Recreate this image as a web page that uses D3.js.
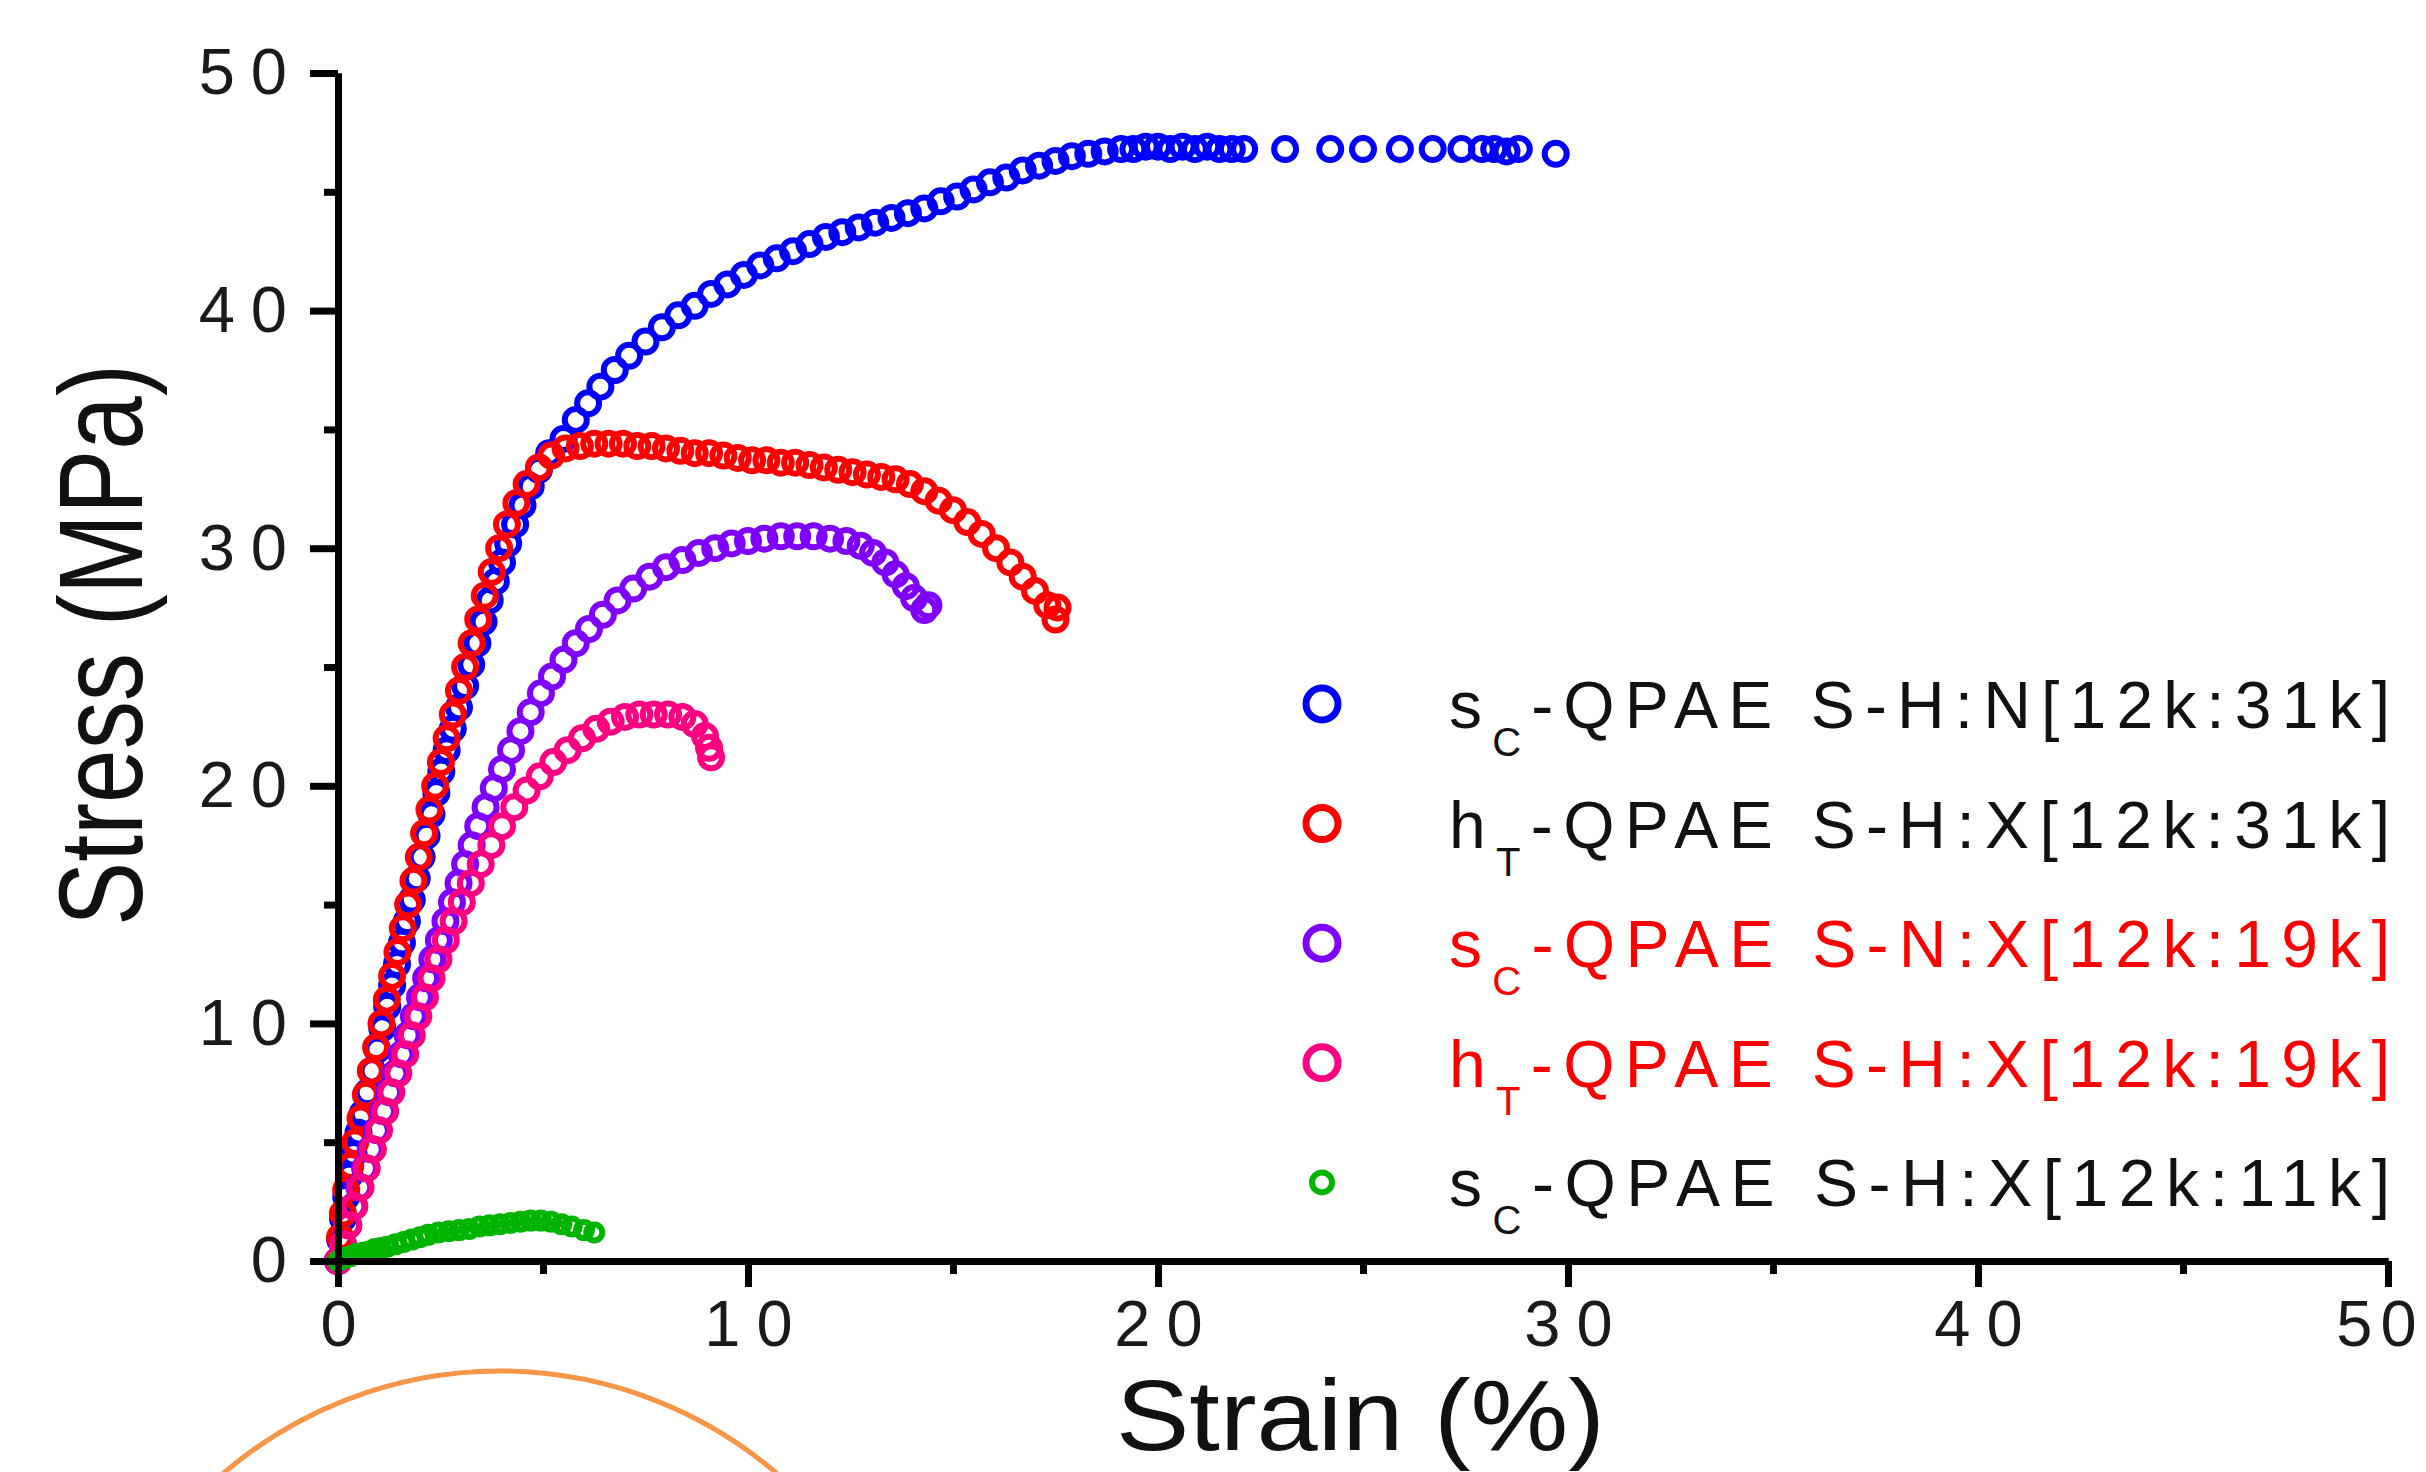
<!DOCTYPE html>
<html>
<head>
<meta charset="utf-8">
<script src="https://cdn.jsdelivr.net/npm/d3@7/dist/d3.min.js"></script>
<style>
	html, body { margin: 0; padding: 0; background: #fff; }
	svg { display: block; font-family: "Liberation Sans", Arial, sans-serif; }
</style>
</head>
<body>
<div id="chart"></div>
<script>
// axis ticks
var xTicks = [0, 10, 20, 30, 40, 50];
var xMinorTicks = [5, 15, 25, 35, 45];
var yTicks = [0, 10, 20, 30, 40, 50];
var yMinorTicks = [5, 15, 25, 35, 45];

// legend labels: [letter, subscript, rest]
var seriesLabels = [
	["s", "C", "-QPAE S-H:N[12k:31k]"],
	["h", "T", "-QPAE S-H:X[12k:31k]"],
	["s", "C", "-QPAE S-N:X[12k:19k]"],
	["h", "T", "-QPAE S-H:X[12k:19k]"],
	["s", "C", "-QPAE S-H:X[12k:11k]"]
];

// [strain %, stress MPa]
var blueData = [
	[0, 0], [0.05, 0.9], [0.12, 1.8], [0.2, 2.7], [0.28, 3.6], [0.38, 4.5], [0.5, 5.4], [0.6, 6.2],
	[0.72, 7.1], [0.84, 8.0], [0.96, 8.9], [1.08, 9.8], [1.2, 10.7], [1.32, 11.6], [1.44, 12.5],
	[1.56, 13.4], [1.68, 14.3], [1.8, 15.2], [1.92, 16.1], [2.04, 17.0], [2.16, 17.9], [2.28, 18.8],
	[2.4, 19.7], [2.52, 20.6], [2.65, 21.5], [2.8, 22.4], [2.95, 23.3], [3.1, 24.2], [3.25, 25.1],
	[3.4, 26.0], [3.55, 26.9], [3.7, 27.8], [3.85, 28.6], [4.0, 29.4], [4.15, 30.2], [4.32, 31.0],
	[4.5, 31.8], [4.7, 32.6], [4.9, 33.3], [5.15, 34.0], [5.5, 34.6], [5.8, 35.4], [6.1, 36.1],
	[6.4, 36.8], [6.75, 37.5], [7.1, 38.1], [7.5, 38.7], [7.9, 39.3], [8.3, 39.8], [8.7, 40.2],
	[9.1, 40.7], [9.5, 41.1], [9.9, 41.5], [10.3, 41.9], [10.7, 42.2], [11.1, 42.5], [11.5, 42.8],
	[11.9, 43.1], [12.3, 43.3], [12.7, 43.5], [13.1, 43.7], [13.5, 43.9], [13.9, 44.1], [14.3, 44.3],
	[14.7, 44.6], [15.1, 44.8], [15.5, 45.1], [15.9, 45.4], [16.3, 45.6], [16.7, 45.9], [17.1, 46.1],
	[17.5, 46.3], [17.9, 46.5], [18.3, 46.6], [18.7, 46.7], [19.1, 46.8], [19.4, 46.8], [19.7, 46.9],
	[20.0, 46.9], [20.3, 46.8], [20.6, 46.9], [20.9, 46.8], [21.2, 46.9], [21.5, 46.8], [21.8, 46.8],
	[22.1, 46.8], [23.1, 46.8], [24.2, 46.8], [25.0, 46.8], [25.9, 46.8], [26.7, 46.8], [27.4, 46.8],
	[27.9, 46.8], [28.2, 46.8], [28.5, 46.7], [28.8, 46.8], [29.7, 46.6]
];
var redData = [
	[0, 0], [0.05, 1.0], [0.12, 2.0], [0.2, 3.0], [0.3, 4.0], [0.42, 5.0], [0.55, 6.0], [0.68, 7.0],
	[0.8, 8.0], [0.93, 9.0], [1.06, 10.0], [1.19, 11.0], [1.32, 12.0], [1.45, 13.0], [1.58, 14.0],
	[1.71, 15.0], [1.84, 16.0], [1.97, 17.0], [2.1, 18.0], [2.23, 19.0], [2.37, 20.0], [2.51, 21.0],
	[2.65, 22.0], [2.8, 23.0], [2.95, 24.0], [3.1, 25.0], [3.26, 26.0], [3.42, 27.0], [3.58, 28.0],
	[3.75, 29.0], [3.93, 30.0], [4.12, 31.0], [4.35, 31.9], [4.6, 32.7], [4.9, 33.4], [5.2, 33.9],
	[5.55, 34.2], [5.9, 34.3], [6.25, 34.4], [6.6, 34.4], [6.95, 34.4], [7.3, 34.3], [7.65, 34.3],
	[8.0, 34.2], [8.35, 34.1], [8.7, 34.0], [9.05, 34.0], [9.4, 33.9], [9.75, 33.8], [10.1, 33.7],
	[10.45, 33.7], [10.8, 33.6], [11.15, 33.6], [11.5, 33.5], [11.85, 33.4], [12.2, 33.3],
	[12.55, 33.2], [12.9, 33.1], [13.25, 33.0], [13.6, 32.9], [13.95, 32.7], [14.3, 32.4],
	[14.65, 32.0], [15.0, 31.6], [15.35, 31.1], [15.7, 30.6], [16.05, 30.0], [16.4, 29.4],
	[16.7, 28.8], [17.0, 28.2], [17.3, 27.6], [17.5, 27.0], [17.55, 27.5]
];
var purpleData = [
	[0, 0], [0.12, 0.7], [0.25, 1.5], [0.38, 2.3], [0.52, 3.1], [0.66, 3.9], [0.8, 4.7], [0.95, 5.5],
	[1.1, 6.3], [1.25, 7.1], [1.4, 7.9], [1.55, 8.7], [1.7, 9.5], [1.85, 10.3], [2.0, 11.1],
	[2.15, 11.9], [2.3, 12.7], [2.46, 13.5], [2.62, 14.3], [2.78, 15.1], [2.94, 15.9], [3.1, 16.7],
	[3.26, 17.5], [3.42, 18.3], [3.6, 19.1], [3.8, 19.9], [4.0, 20.7], [4.22, 21.5], [4.45, 22.3],
	[4.7, 23.1], [4.95, 23.9], [5.22, 24.6], [5.5, 25.3], [5.8, 26.0], [6.12, 26.6], [6.46, 27.2],
	[6.82, 27.8], [7.2, 28.3], [7.6, 28.8], [8.0, 29.2], [8.4, 29.5], [8.8, 29.8], [9.2, 30.0],
	[9.6, 30.2], [10.0, 30.3], [10.4, 30.4], [10.8, 30.5], [11.2, 30.5], [11.6, 30.5], [12.0, 30.4],
	[12.4, 30.3], [12.75, 30.1], [13.05, 29.8], [13.35, 29.4], [13.6, 28.9], [13.85, 28.4],
	[14.05, 27.9], [14.3, 27.4], [14.4, 27.6]
];
var pinkData = [
	[0, 0], [0.12, 0.7], [0.25, 1.5], [0.4, 2.3], [0.55, 3.1], [0.7, 3.9], [0.85, 4.7], [1.0, 5.5],
	[1.15, 6.3], [1.3, 7.1], [1.47, 7.9], [1.64, 8.7], [1.8, 9.5], [1.96, 10.3], [2.12, 11.1],
	[2.28, 11.9], [2.45, 12.7], [2.63, 13.5], [2.82, 14.3], [3.02, 15.1], [3.24, 15.9], [3.48, 16.7],
	[3.74, 17.5], [4.0, 18.3], [4.3, 19.1], [4.6, 19.8], [4.92, 20.4], [5.25, 21.0], [5.6, 21.5],
	[5.95, 22.0], [6.3, 22.4], [6.65, 22.7], [7.0, 22.9], [7.35, 23.0], [7.7, 23.0], [8.05, 23.0],
	[8.4, 22.9], [8.7, 22.6], [8.95, 22.1], [9.05, 21.6], [9.1, 21.2]
];
var greenData = [
	[0, 0], [0.1, 0.1], [0.2, 0.15], [0.3, 0.2], [0.45, 0.3], [0.6, 0.35], [0.75, 0.4], [0.9, 0.5],
	[1.05, 0.55], [1.2, 0.6], [1.4, 0.7], [1.6, 0.8], [1.8, 0.9], [2.0, 1.0], [2.2, 1.1], [2.45, 1.2],
	[2.7, 1.25], [2.95, 1.3], [3.2, 1.35], [3.45, 1.45], [3.7, 1.5], [3.95, 1.55], [4.2, 1.6],
	[4.45, 1.65], [4.7, 1.7], [4.95, 1.7], [5.2, 1.65], [5.45, 1.55], [5.7, 1.45], [6.0, 1.3],
	[6.25, 1.2]
];

var seriesData = [blueData, redData, purpleData, pinkData, greenData];
var seriesColors = ["#0000ff", "#ff0000", "#8000ff", "#ff0080", "#00b400"];
var labelColors = ["#111", "#111", "#f00", "#f00", "#111"];
var markerR = [11, 11, 11, 11, 8];
var markerW = [6, 6, 6, 6, 6];
var legendR = [16, 16, 16, 16, 10];
var legendW = [7, 7, 7, 7, 6];

var width = 2426, height = 1472;
var svg = d3.select("#chart").append("svg")
	.attr("width", width)
	.attr("height", height);

svg.append("rect").attr("width", width).attr("height", height).attr("fill", "#fff");

var x = d3.scaleLinear().domain([0, 50]).range([338, 2388]);
var y = d3.scaleLinear().domain([0, 50]).range([1261, 73]);

// data markers
seriesData.forEach(function(data, i) {
	svg.append("g")
		.selectAll("circle")
		.data(data)
		.enter()
		.append("circle")
		.attr("cx", function(d) { return x(d[0]); })
		.attr("cy", function(d) { return y(d[1]); })
		.attr("r", markerR[i])
		.attr("fill", "none")
		.attr("stroke", seriesColors[i])
		.attr("stroke-width", markerW[i]);
});

// axes
function styleAxis(g) {
	g.select(".domain").attr("stroke", "#000").attr("stroke-width", 7);
	g.selectAll(".tick line").attr("stroke", "#000").attr("stroke-width", 7);
	g.selectAll(".tick text")
		.attr("fill", "#1a1a1a")
		.style("font-size", "65px")
		.style("letter-spacing", "16px");
}

svg.append("g")
	.attr("transform", "translate(0," + y(0) + ")")
	.call(d3.axisBottom(x).tickValues(xMinorTicks).tickSize(13).tickSizeOuter(0).tickFormat(""))
	.call(styleAxis);
var xAxis = svg.append("g")
	.attr("transform", "translate(0," + y(0) + ")")
	.call(d3.axisBottom(x).tickValues(xTicks).tickSize(26).tickSizeOuter(0).tickPadding(13))
	.call(styleAxis);
// last label sits at the right edge of the picture
xAxis.selectAll(".tick text")
	.attr("dx", function(d) { return d === 50 ? -8 : 8; })
	.style("letter-spacing", function(d) { return d === 50 ? "8px" : "16px"; });

svg.append("g")
	.attr("transform", "translate(" + x(0) + ",0)")
	.call(d3.axisLeft(y).tickValues(yMinorTicks).tickSize(14).tickSizeOuter(0).tickFormat(""))
	.call(styleAxis);
svg.append("g")
	.attr("transform", "translate(" + x(0) + ",0)")
	.call(d3.axisLeft(y).tickValues(yTicks).tickSize(28).tickSizeOuter(0).tickPadding(7))
	.call(styleAxis);

// axis titles
svg.append("text")
	.attr("x", 1116)
	.attr("y", 1450)
	.attr("textLength", 489)
	.attr("lengthAdjust", "spacingAndGlyphs")
	.attr("fill", "#111")
	.style("font-size", "100px")
	.text("Strain (%)");

svg.append("text")
	.attr("transform", "translate(142,926) rotate(-90)")
	.attr("textLength", 562)
	.attr("lengthAdjust", "spacingAndGlyphs")
	.attr("fill", "#111")
	.style("font-size", "118px")
	.text("Stress (MPa)");

// legend
var legend = svg.append("g");
seriesLabels.forEach(function(lab, i) {
	var cy = 704 + i * 119.6;
	legend.append("circle")
		.attr("cx", 1322)
		.attr("cy", cy)
		.attr("r", legendR[i])
		.attr("fill", "none")
		.attr("stroke", seriesColors[i])
		.attr("stroke-width", legendW[i]);
	var t = legend.append("text")
		.attr("x", 1449)
		.attr("y", cy + 24)
		.attr("textLength", 941)
		.attr("lengthAdjust", "spacing")
		.attr("fill", labelColors[i])
		.style("font-size", "66px");
	t.append("tspan").text(lab[0]);
	t.append("tspan").attr("dy", 28).style("font-size", "40px").text(lab[1]);
	t.append("tspan").attr("dy", -28).text(lab[2]);
});

// orange annotation circle
svg.append("circle")
	.attr("cx", 500)
	.attr("cy", 1796)
	.attr("r", 425)
	.attr("fill", "none")
	.attr("stroke", "#f79646")
	.attr("stroke-width", 5);
</script>
</body>
</html>
